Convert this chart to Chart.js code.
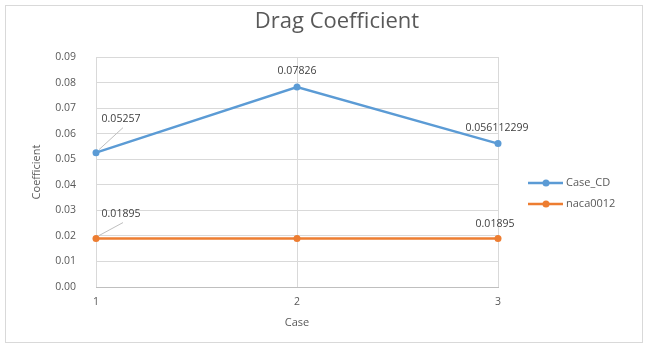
<!DOCTYPE html>
<html>
<head>
<meta charset="utf-8">
<script src="https://cdn.jsdelivr.net/npm/chart.js@4"></script>
<style>
html,body{margin:0;padding:0;background:#fff;}
#wrap{width:648px;height:348px;position:relative;}
</style>
</head>
<body>
<div id="wrap"><canvas id="c" width="648" height="348"></canvas></div>
<script>
const categories = ['1', '2', '3'];
const caseCD = [0.05257, 0.07826, 0.056112299];
const naca0012 = [0.01895, 0.01895, 0.01895];
const caseCDLabels = ['0.05257', '0.07826', '0.056112299'];
const nacaLabels = ['0.01895', '', '0.01895'];
const yTicks = [0, 0.01, 0.02, 0.03, 0.04, 0.05, 0.06, 0.07, 0.08, 0.09];

const FONT = "'Open Sans', 'Liberation Sans', sans-serif";
const BLUE = '#5B9BD5';
const ORANGE = '#ED7D31';
const TXT = '#595959';

// label placement relative to the point (dx, dy, leader line?)
const labelPlacement = [
  [{dx: 25, dy: -34, leader: true}, {dx: 0, dy: -16}, {dx: -1, dy: -16}],
  [{dx: 25, dy: -25, leader: true}, null, {dx: -3, dy: -15}]
];
const allLabels = [caseCDLabels, nacaLabels];

const framePlugin = {
  id: 'frame',
  beforeDraw(chart) {
    const ctx = chart.ctx;
    ctx.save();
    ctx.fillStyle = '#fff';
    ctx.fillRect(0, 0, chart.width, chart.height);
    ctx.strokeStyle = '#d9d9d9';
    ctx.lineWidth = 1;
    ctx.strokeRect(5.5, 5.5, chart.width - 11, chart.height - 11);
    ctx.fillStyle = TXT;
    ctx.font = "22px " + FONT;
    ctx.textAlign = 'center';
    ctx.textBaseline = 'middle';
    ctx.fillText('Drag Coefficient', 337, 22);
    ctx.restore();
  }
};

const labelPlugin = {
  id: 'pointLabels',
  afterDatasetsDraw(chart) {
    const ctx = chart.ctx;
    ctx.save();
    ctx.font = "10.5px " + FONT;
    ctx.fillStyle = '#404040';
    ctx.textAlign = 'center';
    ctx.textBaseline = 'middle';
    chart.data.datasets.forEach((ds, di) => {
      const meta = chart.getDatasetMeta(di);
      meta.data.forEach((pt, i) => {
        const pl = labelPlacement[di][i];
        const txt = allLabels[di][i];
        if (!pl || !txt) return;
        const tx = pt.x + pl.dx, ty = pt.y + pl.dy;
        if (pl.leader) {
          ctx.strokeStyle = '#bfbfbf';
          ctx.lineWidth = 1;
          ctx.beginPath();
          ctx.moveTo(pt.x + 3, pt.y - 3);
          ctx.lineTo(tx + 2, ty + 9);
          ctx.stroke();
        }
        ctx.fillText(txt, tx, ty);
      });
    });
    ctx.restore();
  }
};

const legendPlugin = {
  id: 'sideLegend',
  afterDraw(chart) {
    const ctx = chart.ctx;
    ctx.save();
    ctx.font = "11px " + FONT;
    ctx.textAlign = 'left';
    ctx.textBaseline = 'middle';
    chart.data.datasets.forEach((ds, di) => {
      const y = 183 + di * 21;
      ctx.strokeStyle = ds.borderColor;
      ctx.lineWidth = 2.5;
      ctx.beginPath();
      ctx.moveTo(528, y);
      ctx.lineTo(563, y);
      ctx.stroke();
      ctx.fillStyle = ds.backgroundColor;
      ctx.beginPath();
      ctx.arc(546, y, 3.5, 0, Math.PI * 2);
      ctx.fill();
      ctx.fillStyle = TXT;
      ctx.fillText(ds.label, 566, y);
    });
    ctx.restore();
  }
};

new Chart(document.getElementById('c'), {
  type: 'line',
  data: {
    labels: categories,
    datasets: [
      {label: 'Case_CD', data: caseCD, borderColor: BLUE, backgroundColor: BLUE,
       borderWidth: 2.5, pointRadius: 3.5, pointBorderWidth: 0, tension: 0},
      {label: 'naca0012', data: naca0012, borderColor: ORANGE, backgroundColor: ORANGE,
       borderWidth: 2.5, pointRadius: 3.5, pointBorderWidth: 0, tension: 0}
    ]
  },
  options: {
    responsive: false,
    animation: false,
    devicePixelRatio: 1,
    layout: {padding: {top: 57, right: 150, bottom: 0, left: 0}},
    plugins: {legend: {display: false}, title: {display: false}, tooltip: {enabled: false}},
    scales: {
      x: {
        type: 'category',
        offset: false,
        grid: {color: '#d9d9d9', drawTicks: false},
        border: {display: true, color: '#bfbfbf'},
        ticks: {color: TXT, font: {family: FONT, size: 10.5}, padding: 9, maxRotation: 0},
        title: {display: true, text: 'Case', color: TXT, font: {family: FONT, size: 11}, padding: {top: 0, bottom: 19}},
        afterFit(s) { s.height = 61; }
      },
      y: {
        min: 0, max: 0.09,
        afterBuildTicks(s) { s.ticks = yTicks.map(v => ({value: v})); },
        grid: {color: '#d9d9d9', drawTicks: false},
        border: {display: false},
        ticks: {color: TXT, font: {family: FONT, size: 10.5}, padding: 20,
                callback: v => Number(v).toFixed(2)},
        title: {display: true, text: 'Coefficient', color: TXT, font: {family: FONT, size: 11}, padding: {top: 30, bottom: 0}},
        afterFit(s) { s.width = 96; }
      }
    }
  },
  plugins: [framePlugin, labelPlugin, legendPlugin]
});
</script>
</body>
</html>
